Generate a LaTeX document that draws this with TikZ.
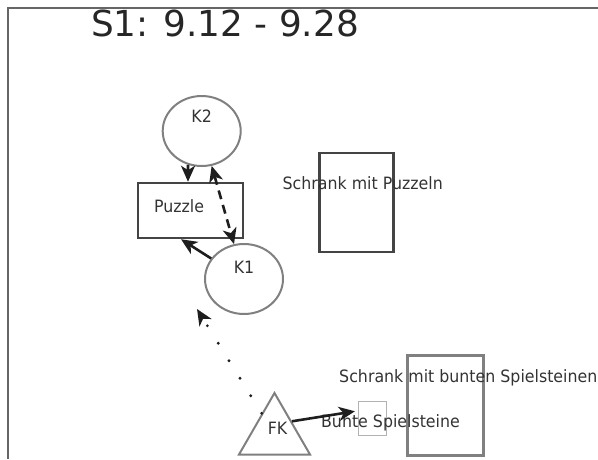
\documentclass[tikz,border=0pt]{standalone}
\usepackage{fontspec}
\setmainfont{DejaVu Sans}
\newfontfamily\labelfont[FakeStretch=0.93]{DejaVu Sans}
\usetikzlibrary{arrows.meta,shapes.geometric}
\definecolor{ink}{HTML}{1E1E1E}
\definecolor{rim}{HTML}{808080}
\definecolor{darkrim}{HTML}{444444}
\tikzset{
	txt/.style={text=black!80,font=\labelfont\fontsize{17}{17}\selectfont,inner sep=0pt},
	kid/.style={ellipse,draw=rim,line width=2pt,minimum width=78pt,minimum height=70pt},
	thing/.style={rectangle,draw=darkrim,line width=2.5pt},
	cupboard/.style={rectangle,draw=rim,line width=3pt},
	piece/.style={rectangle,draw=black!30,line width=1.3pt},
	frame/.style={draw=black!60,line width=2pt},
	tip/.style={Stealth[length=16pt,width=14pt,inset=4.5pt]},
	solidarrow/.style={draw=ink,line width=2.6pt,-{Stealth[length=16pt,width=14pt,inset=4.5pt]}},
	dasharrow/.style={draw=ink,line width=2.6pt,dash pattern=on 9pt off 6pt,{Stealth[length=16pt,width=14pt,inset=4.5pt]}-{Stealth[length=16pt,width=14pt,inset=4.5pt]}},
	dotarrow/.style={draw=ink,line width=3.2pt,line cap=round,dash pattern=on 0pt off 20.6pt,-{Stealth[length=16pt,width=14pt,inset=4.5pt]}}
}
\begin{document}
\begin{tikzpicture}[x=1pt,y=-1pt]
	\useasboundingbox (0,0) rectangle (598,459);
	\draw[frame] (8,459) -- (8,8) -- (598,8);
	\node[anchor=base,text=black!85,font=\fontsize{35.8}{40}\selectfont,inner sep=0pt] (title) at (225,36) {S1: 9.12 - 9.28};
	\node[kid,label={[txt,yshift=15pt]center:K2}] (K2) at (201.7,131) {};
	\node[kid,label={[txt,yshift=12pt]center:K1}] (K1) at (244,279) {};
	\node[thing,minimum width=105pt,minimum height=55pt,label={[txt,xshift=-11.5pt,yshift=4.5pt]center:Puzzle}] (Puzzle) at (190.5,210.5) {};
	\node[thing,minimum width=74pt,minimum height=99pt,label={[txt,xshift=6pt,yshift=19pt]center:Schrank mit Puzzeln}] (SchrankPuzzle) at (356.7,202.5) {};
	\node[cupboard,minimum width=76pt,minimum height=100pt,label={[txt,xshift=23pt,yshift=27pt]center:Schrank mit bunten Spielsteinen}] (SchrankSteine) at (445.3,405.3) {};
	\node[piece,minimum width=28pt,minimum height=34pt,label={[txt,xshift=18pt,yshift=-4.5pt]center:Bunte Spielsteine}] (Steine) at (372.5,418.8) {};
	\node[regular polygon,regular polygon sides=3,draw=rim,line width=2pt,minimum size=82pt,inner sep=0pt,label={[txt,xshift=3pt,yshift=6pt]center:FK}] (FK) at (274.5,434) {};
	\coordinate (FKend) at (197,309);
	\draw[solidarrow] (K2.248) -- ([xshift=-2.5pt]Puzzle.north);
	\draw[dasharrow] (K2) -- (K1);
	\draw[solidarrow] (K1.148) -- ([xshift=-9.5pt]Puzzle.south);
	\draw[dotarrow] (FK) -- (FKend);
	\draw[solidarrow,shorten >=3pt] (FK.36) -- ([yshift=8pt]Steine.west);
\end{tikzpicture}
\end{document}
